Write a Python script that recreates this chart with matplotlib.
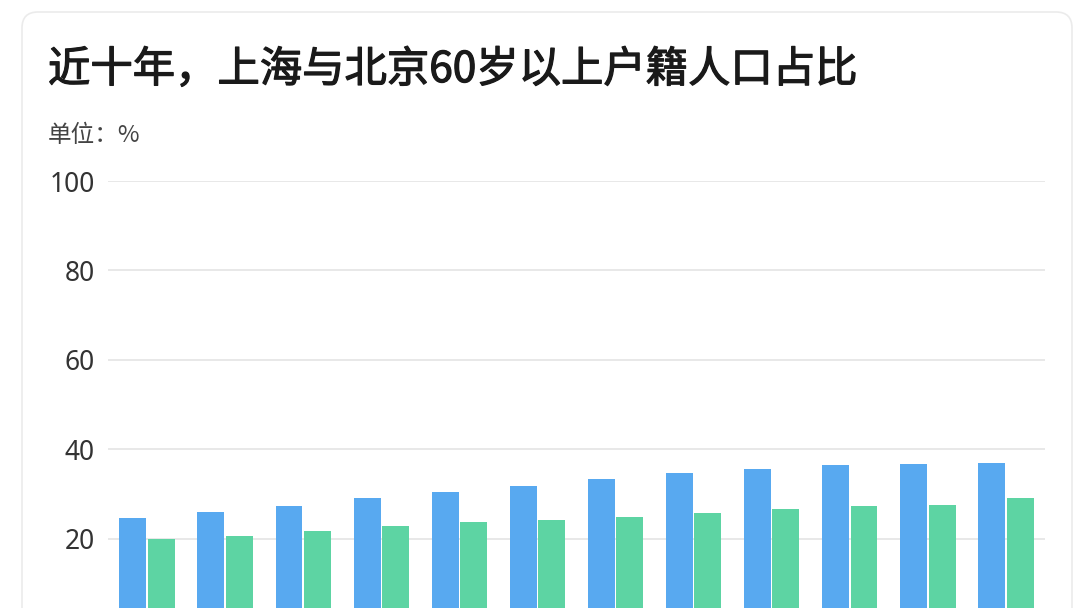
import matplotlib
matplotlib.use("Agg")
import matplotlib.pyplot as plt
import matplotlib.patheffects as pe
import numpy as np
from matplotlib.patches import FancyBboxPatch
from matplotlib.transforms import IdentityTransform

plt.rcParams['font.family'] = ['Noto Sans CJK SC', 'DejaVu Sans']

# ---- data ----
years = ["2011", "2012", "2013", "2014", "2015", "2016",
         "2017", "2018", "2019", "2020", "2021", "2022"]
shanghai = [24.6, 25.9, 27.3, 29.0, 30.4, 31.8, 33.4, 34.6, 35.5, 36.4, 36.6, 37.0]
beijing = [19.8, 20.6, 21.6, 22.8, 23.8, 24.1, 24.8, 25.8, 26.7, 27.3, 27.6, 29.1]
y_ticks = [20, 40, 60, 80, 100]

title = "近十年，上海与北京60岁以上户籍人口占比"
unit = "单位：%"

W, H = 1080, 608
fig = plt.figure(figsize=(W / 100, H / 100), dpi=100)
fig.patch.set_facecolor("white")

# card background
card = FancyBboxPatch((22, -60), 1050, 596 + 60,
                      boxstyle="round,pad=0,rounding_size=16",
                      transform=IdentityTransform(),
                      facecolor="white", edgecolor="#ebebeb", linewidth=1.2,
                      zorder=-5)
fig.patches.append(card)

ax = fig.add_axes([108 / W, (H - 628) / H, 937 / W, (628 - 181) / H])
ax.set_zorder(2)
ax.set_facecolor("none")

x = np.arange(len(years))
bw = 0.345
ax.bar(x - 0.182, shanghai, width=bw, color="#58a9f0", zorder=3)
ax.bar(x + 0.182, beijing, width=bw, color="#5dd4a3", zorder=3)

ax.set_xlim(-0.5, len(years) - 0.5)
ax.set_ylim(0, 100)
ax.set_yticks(y_ticks)
ax.set_xticks(x)
ax.set_xticklabels(years)
ax.tick_params(axis='y', length=0, pad=9.5, labelsize=19, labelcolor="#333333")
ax.tick_params(axis='x', length=0, labelbottom=False)
for lab in ax.get_yticklabels():
    lab.set_family(['Noto Sans', 'DejaVu Sans'])
ax.grid(axis='y', color="#e4e4e4", linewidth=1.2, zorder=0)
ax.set_axisbelow(True)
for s in ax.spines.values():
    s.set_visible(False)

fig.text(48 / W, (H - 70) / H, title, fontsize=30.5,
         color="#1a1a1a", va='center', ha='left', zorder=5,
         path_effects=[pe.withStroke(linewidth=0.9, foreground="#1a1a1a")])
fig.text(48 / W, (H - 136) / H, unit, fontsize=17, color="#444444",
         va='center', ha='left', zorder=5)

fig.savefig("out.png", dpi=100, facecolor="white")
